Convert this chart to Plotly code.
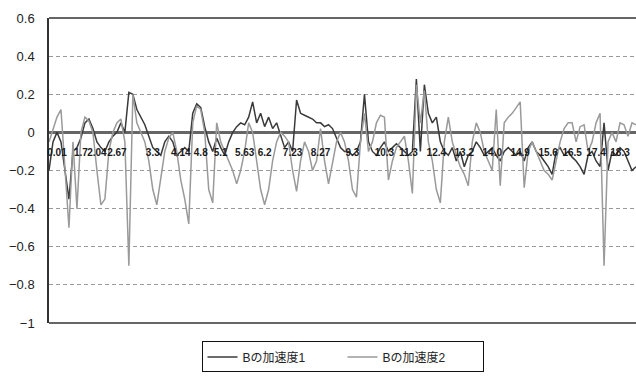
import plotly.graph_objects as go

# Values (sample index -> acceleration)
accel_1 = [
    -0.20, -0.05, 0.00, -0.05, -0.20, -0.35, -0.10, -0.08, -0.03, 0.05,
    0.07, 0.02, -0.05, -0.08, -0.10, -0.05, -0.02, 0.00, 0.05, 0.00,
    0.21, 0.20, 0.12, 0.08, 0.04, -0.02, -0.08, -0.10, -0.12, -0.05,
    -0.02, -0.05, -0.12, -0.10, -0.08, -0.10, 0.10, 0.15, 0.13, 0.03,
    -0.05, -0.10, -0.03, -0.08, -0.12, -0.05, 0.00, 0.03, 0.05, 0.04,
    0.08, 0.16, 0.05, 0.10, 0.03, 0.08, 0.02, 0.05, -0.02, -0.08,
    -0.05, -0.10, 0.17, 0.10, 0.09, 0.08, 0.07, 0.05, 0.05, 0.03,
    0.04, 0.02, -0.03, -0.08, -0.10, -0.10, -0.12, -0.10, -0.05, 0.20,
    -0.05, -0.10, -0.12, -0.08, -0.05, -0.10, -0.08, -0.06, -0.08, -0.10,
    -0.12, -0.10, 0.28, -0.10, 0.25, 0.10, 0.05, 0.08, -0.05, -0.10,
    -0.12, -0.08, -0.15, -0.10, -0.18, -0.12, -0.10, -0.05, -0.08, -0.12,
    -0.10, -0.08, -0.12, -0.15, -0.10, -0.08, -0.10, -0.12, -0.10, -0.15,
    -0.08, -0.05, -0.10, -0.12, -0.15, -0.18, -0.22, -0.10, -0.08, -0.12,
    -0.10, -0.13, -0.15, -0.18, -0.22, -0.12, -0.10, -0.15, -0.18, 0.05,
    -0.20, -0.10, -0.12, -0.08, -0.10, -0.15, -0.20, -0.18,
]
accel_2 = [
    -0.05, 0.02, 0.08, 0.12, -0.20, -0.50, -0.05, -0.40, 0.00, 0.08,
    0.06, 0.00, -0.20, -0.38, -0.35, -0.10, 0.00, 0.05, 0.07, -0.05,
    -0.70, 0.20, 0.05, 0.00, -0.05, -0.15, -0.30, -0.38, -0.25, -0.10,
    -0.03, 0.00, -0.10, -0.25, -0.35, -0.48, 0.05, 0.14, 0.12, 0.00,
    -0.30, -0.37, 0.05, -0.05, -0.10, -0.15, -0.20, -0.27, -0.20, -0.10,
    0.05, 0.00, -0.15, -0.30, -0.38, -0.30, -0.15, -0.05, 0.00, -0.02,
    -0.05, -0.20, -0.31, -0.15, -0.05, -0.10, -0.20, -0.15, 0.02, -0.15,
    -0.27, -0.15, -0.05, 0.00, -0.05, -0.15, -0.30, -0.34, -0.05, 0.10,
    -0.10, -0.05, 0.05, 0.09, 0.08, -0.25, -0.15, -0.08, -0.05, -0.02,
    -0.15, -0.32, 0.25, 0.05, 0.22, -0.05, -0.15, -0.30, -0.37, -0.05,
    0.08, -0.05, -0.12, -0.18, -0.22, -0.28, -0.05, 0.05, 0.00, -0.10,
    -0.15, -0.20, 0.12, -0.28, 0.05, 0.08, 0.10, 0.13, 0.16, -0.29,
    -0.10, -0.05, -0.10, -0.15, -0.20, -0.22, -0.25, -0.15, -0.05, 0.02,
    0.05, 0.05, -0.05, 0.03, 0.04, -0.10, -0.05, 0.05, 0.10, -0.70,
    -0.05, 0.00, -0.05, 0.05, 0.04, -0.02, 0.05, 0.04,
]
series_names = ["Bの加速度1", "Bの加速度2"]

# Category (time) labels shown along the zero axis and the samples they sit at
time_labels = ["0.01", "1.7", "2.04", "2.67", "3.3", "4.14", "4.8", "5.1", "5.63",
               "6.2", "7.23", "8.27", "9.3", "10.3", "11.3", "12.4", "13.2",
               "14.0", "14.9", "15.6", "16.5", "17.4", "18.3"]
time_label_index = [2, 8, 12, 17, 26, 33, 38, 43, 49, 54, 61, 68, 76, 84, 90,
                    97, 104, 111, 118, 125, 131, 137, 143]

y_ticks = [0.6, 0.4, 0.2, 0, -0.2, -0.4, -0.6, -0.8, -1]

n = len(accel_1)
idx = list(range(n))

FONT = "Liberation Sans, Arial, Noto Sans CJK JP, sans-serif"

fig = go.Figure()
fig.add_trace(go.Scatter(x=idx, y=accel_1, mode="lines", name=series_names[0],
                         line=dict(color="#3a3a3a", width=1.5)))
fig.add_trace(go.Scatter(x=idx, y=accel_2, mode="lines", name=series_names[1],
                         line=dict(color="#9a9a9a", width=1.5)))

zero_pos = (0 - min(y_ticks)) / (max(y_ticks) - min(y_ticks))

fig.update_layout(
    width=636, height=377,
    margin=dict(l=49, r=0, t=18, b=54, autoexpand=False),
    paper_bgcolor="white", plot_bgcolor="white",
    font=dict(family=FONT, color="#222222"),
    showlegend=True,
    legend=dict(orientation="h", x=0.5, xanchor="center", y=-0.162, yanchor="bottom",
                bordercolor="#111111", borderwidth=1, font=dict(size=12),
                itemwidth=30, entrywidth=95, entrywidthmode="pixels",
                tracegroupgap=0),
    xaxis=dict(range=[0, n - 1], anchor="free", position=zero_pos,
               tickmode="array", tickvals=time_label_index, ticktext=time_labels,
               tickangle=0, showgrid=False, showline=False, zeroline=False,
               ticks="", ticklabelstandoff=13,
               tickfont=dict(size=10, color="#1a1a1a", weight="bold")),
    yaxis=dict(range=[min(y_ticks), max(y_ticks)], tickmode="array",
               tickvals=y_ticks, showgrid=True, gridcolor="#9a9a9a", gridwidth=1,
               griddash="4px,3px", zeroline=True, zerolinecolor="#666666",
               zerolinewidth=2.5, showline=True, linecolor="#333333", linewidth=1.5,
               ticks="", ticklabelstandoff=10, tickfont=dict(size=13, color="#222222")),
    shapes=[
        dict(type="line", xref="paper", yref="paper", x0=0, x1=1, y0=1, y1=1,
             line=dict(color="#333333", width=1.5)),
        dict(type="line", xref="paper", yref="paper", x0=0, x1=1, y0=0, y1=0,
             line=dict(color="#333333", width=1.5)),
    ],
)

fig.write_html("out.html")
